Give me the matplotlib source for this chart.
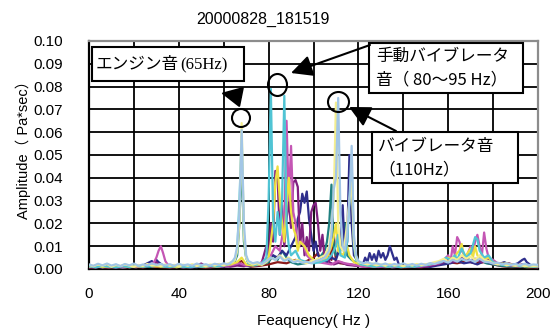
import numpy as np
import matplotlib
matplotlib.use("Agg")
import matplotlib.pyplot as plt
from matplotlib.patches import Rectangle, Ellipse
from matplotlib.transforms import IdentityTransform

# ---------------- data (amplitude in 1e-3 Pa*sec) ----------------
title = "20000828_181519"
x_label = "Feaquency( Hz )"
y_label = "Amplitude（ Pa*sec）"
x_ticks = [0, 40, 80, 120, 160, 200]
x_tick_labels = ["0", "40", "80", "120", "160", "200"]
y_ticks = [0.00, 0.01, 0.02, 0.03, 0.04, 0.05, 0.06, 0.07, 0.08, 0.09, 0.10]
y_tick_labels = ["0.00", "0.01", "0.02", "0.03", "0.04", "0.05", "0.06", "0.07", "0.08", "0.09", "0.10"]

dark_red = [(0,0.6),(4,1.0),(8,0.5),(12,0.8),(16,0.6),(20,1.0),(24,0.7),(28,1.2),(32,0.8),(36,0.6),(40,0.9),(44,0.7),(48,1.0),(52,0.6),(56,0.9),(60,1.2),(64,1.5),(66,2.5),(68,3.5),(70,1.8),(72,1.0),(76,1.4),(80,2.0),(84,3.0),(88,2.5),(92,4.0),(96,3.0),(100,5.0),(102,7.0),(103,4.0),(104,6.0),(106,3.0),(107,10.0),(108,4.0),(109,16.0),(110,3.0),(112,2.5),(116,2.0),(120,1.5),(124,1.0),(128,1.2),(132,0.8),(136,1.0),(140,0.7),(144,0.9),(148,0.8),(152,1.2),(156,2.0),(160,3.0),(164,2.5),(168,3.5),(172,2.5),(176,3.0),(180,2.0),(184,1.2),(188,0.8),(192,1.0),(196,0.7),(200,0.8)]

teal = [(0,1.0),(3,0.7),(6,1.2),(9,0.8),(12,1.0),(15,0.6),(18,1.1),(21,0.8),(24,1.3),(27,0.9),(30,1.5),(33,1.0),(36,0.8),(39,1.2),(42,0.7),(45,1.0),(48,0.8),(51,1.3),(54,0.9),(57,1.4),(60,1.2),(63,2.0),(65,3.5),(66,6.0),(67,20.0),(68,51.0),(69,12.0),(70,5.0),(71,2.5),(74,1.5),(77,2.0),(80,3.0),(82,6.0),(84,4.0),(86,8.0),(88,5.0),(90,3.0),(93,2.0),(96,2.5),(99,3.0),(102,4.0),(105,8.0),(106,12.0),(107,20.0),(108,37.0),(109,10.0),(110,6.0),(112,8.0),(113,14.0),(114,20.0),(115,6.0),(117,4.0),(120,2.0),(123,1.2),(126,1.5),(129,1.0),(132,1.3),(135,0.8),(138,1.1),(141,1.0),(144,1.5),(147,1.0),(150,1.2),(153,1.8),(156,2.5),(159,3.0),(162,4.5),(165,3.5),(168,5.0),(171,3.0),(174,4.0),(177,2.5),(180,2.0),(183,1.5),(186,1.2),(189,1.0),(192,1.3),(195,0.8),(198,1.0),(200,0.9)]

navy = [(0,0.8),(3,1.2),(6,0.6),(9,1.0),(12,0.8),(15,1.2),(18,0.7),(21,1.0),(24,1.5),(26,2.5),(28,3.5),(29,2.0),(30,4.0),(31,3.0),(33,1.5),(36,1.0),(39,0.8),(42,1.2),(45,0.7),(48,1.0),(51,1.4),(54,0.8),(57,1.2),(60,1.0),(63,1.5),(66,2.0),(69,1.5),(72,1.2),(75,2.0),(78,3.0),(80,4.0),(82,6.0),(84,5.0),(86,8.0),(88,6.0),(90,10.0),(92,14.0),(93,22.0),(94,25.0),(95,33.0),(96,29.0),(97,34.0),(98,22.0),(99,15.0),(100,8.0),(101,12.0),(102,6.0),(104,4.0),(106,3.0),(108,5.0),(110,4.0),(112,10.0),(113,28.0),(114,6.0),(115,12.0),(116,50.0),(117,20.0),(118,6.0),(120,3.0),(122,2.0),(123,5.0),(124,3.0),(125,7.0),(126,4.0),(127,6.5),(128,3.5),(129,8.0),(130,5.0),(131,7.0),(132,4.0),(133,6.0),(134,10.0),(135,7.0),(136,4.0),(137,5.0),(138,2.0),(140,1.2),(143,1.5),(146,1.0),(149,1.3),(152,0.9),(155,1.5),(158,2.0),(161,2.5),(164,3.5),(167,2.5),(170,3.0),(173,2.0),(176,3.5),(179,2.5),(182,2.0),(185,3.0),(188,1.5),(191,2.5),(193,4.0),(194,4.5),(195,3.0),(197,1.5),(200,1.0)]

purple = [(0,0.7),(3,1.0),(6,0.8),(9,1.2),(12,0.6),(15,1.0),(18,0.9),(21,1.3),(24,0.8),(27,1.5),(30,3.0),(31,2.0),(33,1.2),(36,0.8),(39,1.1),(42,0.7),(45,1.2),(48,1.6),(50,2.4),(52,1.2),(55,0.9),(58,2.2),(60,1.3),(63,1.0),(66,1.5),(69,1.2),(72,2.0),(75,1.5),(77,3.0),(79,10.0),(80,6.0),(81,20.0),(82,12.0),(83,43.0),(84,40.0),(85,15.0),(86,28.0),(87,10.0),(88,22.0),(89,30.0),(90,18.0),(91,38.0),(92,39.0),(93,36.0),(94,10.0),(95,20.0),(96,6.0),(97,14.0),(98,8.0),(99,25.0),(100,28.0),(101,29.0),(102,20.0),(103,8.0),(104,15.0),(105,4.0),(106,6.0),(107,3.0),(109,2.0),(112,3.0),(115,1.8),(118,1.5),(121,1.2),(124,1.0),(127,1.5),(130,1.0),(133,1.3),(136,0.8),(139,1.1),(142,1.0),(145,1.4),(148,0.9),(151,1.2),(154,1.8),(157,2.5),(160,4.0),(163,3.0),(166,5.0),(169,3.5),(172,4.5),(175,3.0),(178,4.0),(181,2.5),(184,2.0),(187,2.5),(190,1.5),(193,2.0),(196,1.2),(200,1.0)]

magenta = [(0,1.0),(3,0.7),(6,1.1),(9,0.8),(12,1.2),(15,0.7),(18,1.0),(21,0.8),(24,1.3),(27,1.8),(29,3.0),(30,5.0),(31,8.0),(32,10.0),(33,7.0),(34,3.5),(35,2.0),(37,1.2),(40,0.9),(43,1.1),(46,0.8),(49,1.3),(52,0.9),(55,1.5),(58,1.0),(61,1.4),(64,1.8),(67,2.5),(70,1.5),(73,1.8),(76,2.5),(79,4.0),(81,6.0),(83,10.0),(85,8.0),(86,14.0),(87,20.0),(88,65.0),(89,30.0),(90,54.0),(91,25.0),(92,20.0),(93,10.0),(95,12.0),(97,6.0),(99,4.0),(102,3.0),(105,2.5),(108,2.0),(111,3.5),(114,2.5),(117,2.0),(120,1.5),(123,1.0),(126,1.3),(129,0.9),(132,1.2),(135,0.8),(138,1.1),(141,0.9),(144,1.3),(147,1.0),(150,1.5),(153,2.0),(156,2.5),(158,4.0),(160,6.0),(161,3.0),(162,10.0),(163,6.0),(164,14.0),(165,12.0),(166,8.0),(168,5.0),(170,10.0),(171,7.0),(172,12.0),(173,15.0),(174,10.0),(175,6.0),(176,16.0),(177,9.0),(178,5.0),(180,4.0),(182,2.5),(185,2.0),(188,1.5),(191,1.2),(194,1.6),(197,1.0),(200,0.8)]

yellow = [(0,1.0),(3,1.5),(6,0.8),(9,1.2),(12,1.0),(15,1.4),(18,0.8),(21,1.2),(24,1.0),(27,1.6),(30,1.2),(33,1.0),(36,1.4),(39,0.8),(42,1.2),(45,1.0),(48,1.5),(51,0.9),(54,1.3),(57,1.0),(60,1.6),(63,2.0),(66,3.0),(68,5.0),(70,2.0),(73,1.5),(76,2.0),(78,3.0),(80,5.0),(81,12.0),(82,20.0),(83,38.0),(84,45.0),(85,30.0),(86,20.0),(87,12.0),(88,28.0),(89,40.0),(90,25.0),(91,18.0),(92,15.0),(93,8.0),(94,12.0),(96,10.0),(98,6.0),(100,4.0),(103,3.0),(106,5.0),(108,10.0),(109,14.0),(110,20.0),(111,8.0),(113,6.0),(115,10.0),(116,6.0),(118,3.0),(121,2.0),(124,1.5),(127,1.2),(130,1.8),(133,1.0),(136,1.4),(139,1.0),(142,1.5),(145,1.2),(148,1.8),(151,2.0),(154,2.5),(157,3.5),(160,5.0),(162,4.0),(164,7.0),(165,8.0),(166,11.0),(167,6.0),(168,6.0),(170,9.0),(171,5.0),(172,10.0),(173,6.0),(175,4.0),(178,5.0),(180,3.0),(183,2.0),(186,2.5),(189,1.5),(192,1.8),(195,1.2),(198,1.0),(200,1.2)]

cyan = [(0,1.2),(3,0.8),(6,1.3),(9,1.0),(12,0.7),(15,1.2),(18,0.9),(21,1.4),(24,1.0),(27,1.3),(30,1.8),(33,1.1),(36,0.9),(39,1.3),(42,1.0),(45,0.8),(48,1.2),(51,1.0),(54,1.4),(57,1.1),(60,1.6),(63,2.5),(65,4.0),(66,8.0),(67,30.0),(68,58.0),(69,15.0),(70,5.0),(71,2.5),(74,1.8),(77,2.5),(79,5.0),(80,30.0),(81,79.0),(82,22.0),(83,12.0),(84,25.0),(85,15.0),(86,30.0),(87,76.0),(88,20.0),(89,10.0),(90,6.0),(92,8.0),(94,4.0),(97,3.0),(100,2.5),(103,3.0),(106,4.0),(108,6.0),(110,10.0),(111,15.0),(112,6.0),(114,5.0),(115,12.0),(116,30.0),(117,46.0),(118,10.0),(119,4.0),(121,2.0),(124,1.5),(127,1.0),(130,1.4),(133,1.0),(136,1.2),(139,0.8),(142,1.1),(145,1.0),(148,1.5),(151,1.8),(154,2.5),(157,3.0),(159,5.0),(161,4.0),(163,6.0),(164,4.0),(166,9.0),(168,5.0),(170,7.0),(172,14.0),(173,13.0),(174,8.0),(176,5.0),(178,6.0),(180,3.0),(183,2.0),(186,1.5),(189,1.8),(192,1.2),(195,1.5),(198,1.0),(200,1.2)]

pale_yellow = [(0,1.8),(2,1.2),(4,2.0),(6,1.4),(8,2.2),(10,1.0),(12,1.8),(14,1.3),(16,2.0),(18,1.5),(20,1.0),(22,1.8),(24,1.3),(26,2.2),(28,1.5),(30,1.8),(32,1.2),(34,2.0),(36,1.4),(38,1.8),(40,1.1),(42,1.9),(44,1.4),(46,2.1),(48,1.3),(50,1.8),(52,1.2),(54,2.0),(56,1.5),(58,2.2),(60,1.6),(62,2.5),(64,3.0),(65,4.0),(66,8.0),(67,20.0),(68,64.0),(69,15.0),(70,5.0),(71,3.0),(73,2.0),(75,2.5),(77,1.8),(79,3.0),(81,5.0),(83,4.0),(85,6.0),(87,4.0),(89,5.0),(91,3.5),(93,4.0),(95,3.0),(97,2.5),(99,3.5),(101,4.0),(103,5.0),(105,6.0),(107,10.0),(108,18.0),(109,30.0),(110,73.0),(111,20.0),(112,10.0),(113,8.0),(114,12.0),(115,20.0),(116,30.0),(117,38.0),(118,12.0),(119,5.0),(120,3.0),(122,2.5),(124,2.0),(126,2.4),(128,1.6),(130,2.0),(132,1.4),(134,2.2),(136,1.5),(138,1.8),(140,1.2),(142,2.0),(144,1.5),(146,2.2),(148,1.6),(150,2.0),(152,2.5),(154,3.0),(156,3.5),(158,4.5),(160,3.0),(162,5.0),(164,4.0),(166,6.0),(168,4.5),(170,5.5),(172,4.0),(174,6.0),(176,4.0),(178,3.5),(180,2.5),(182,2.0),(184,2.4),(186,1.6),(188,2.0),(190,1.4),(192,1.8),(194,1.2),(196,1.6),(198,1.3),(200,1.5)]

light_blue = [(0,2.0),(2,1.4),(4,2.3),(6,1.6),(8,2.4),(10,1.5),(12,2.1),(14,1.3),(16,2.2),(18,1.6),(20,2.4),(22,1.4),(24,2.0),(26,1.6),(28,2.5),(30,1.8),(32,2.2),(34,1.5),(36,2.1),(38,1.4),(40,2.3),(42,1.6),(44,2.0),(46,1.4),(48,2.4),(50,1.7),(52,2.1),(54,1.5),(56,2.3),(58,1.8),(60,2.5),(62,2.0),(64,3.5),(65,5.0),(66,10.0),(67,25.0),(68,61.0),(69,20.0),(70,6.0),(71,3.5),(73,2.5),(75,3.0),(77,2.2),(79,3.5),(81,5.0),(83,4.0),(85,5.5),(87,3.5),(89,4.5),(91,3.0),(93,3.5),(95,2.8),(97,3.2),(99,2.5),(101,3.5),(103,4.0),(105,5.0),(107,8.0),(108,15.0),(109,35.0),(110,40.0),(111,75.0),(112,25.0),(113,10.0),(114,8.0),(115,15.0),(116,30.0),(117,54.0),(118,15.0),(119,6.0),(120,3.5),(122,2.5),(124,3.0),(126,2.2),(128,2.6),(130,1.8),(132,2.4),(134,1.6),(136,2.2),(138,1.8),(140,2.5),(142,1.6),(144,2.2),(146,1.5),(148,2.3),(150,1.8),(152,2.6),(154,2.2),(156,3.0),(158,3.5),(160,2.8),(162,4.0),(164,3.2),(166,4.5),(168,3.5),(170,4.0),(172,3.0),(174,4.5),(176,3.2),(178,3.0),(180,2.4),(182,2.8),(184,2.0),(186,2.5),(188,1.8),(190,2.2),(192,1.6),(194,2.3),(196,1.7),(198,2.0),(200,1.8)]

series = [
    (dark_red, "#8B1A1A"),
    (teal, "#1F8080"),
    (navy, "#2E2E8C"),
    (purple, "#7F1F7F"),
    (magenta, "#C456B4"),
    (yellow, "#EEE040"),
    (cyan, "#50C4D4"),
    (pale_yellow, "#F4EE90"),
    (light_blue, "#A2C6E6"),
]

# ---------------- figure ----------------
W, H = 558, 332
fig = plt.figure(figsize=(W / 100, H / 100), dpi=100)
ax = fig.add_axes([89 / W, 1 - 269 / H, 449 / W, 228 / H])

for pts, col in series:
    f = [p[0] for p in pts]
    a = [p[1] * 1e-3 for p in pts]
    ax.plot(f, a, color=col, lw=1.6, zorder=3)

ax.set_xlim(0, 200)
ax.set_ylim(0, 0.1)
ax.set_xticks(x_ticks)
ax.set_xticklabels(x_tick_labels)
ax.set_xticks(np.arange(0, 201, 20), minor=True)
ax.set_yticks(y_ticks)
ax.set_yticklabels(y_tick_labels)
ax.grid(which="both", color="black", lw=1.3, zorder=1)
ax.set_axisbelow(True)
ax.tick_params(which="both", length=0)
ax.tick_params(axis="x", pad=13, labelsize=11)
ax.tick_params(axis="y", pad=19, labelsize=11)
for lab in ax.get_xticklabels() + ax.get_yticklabels():
    lab.set_fontfamily("Liberation Sans")
for s in ["left", "bottom"]:
    ax.spines[s].set_color("black")
    ax.spines[s].set_linewidth(1.6)
for s in ["top", "right"]:
    ax.spines[s].set_color("#8c8c8c")
    ax.spines[s].set_linewidth(1.6)

def P(x, y):
    return (x, H - y)

ID = IdentityTransform()
fig.text(*P(263, 19), title, transform=ID, ha="center", va="center",
         fontsize=11.5, family="Liberation Sans")
fig.text(*P(314, 321), x_label, transform=ID, ha="center", va="center",
         fontsize=11, family=["Liberation Sans", "Noto Sans CJK JP"])
fig.text(*P(23, 146), y_label, transform=ID, ha="center", va="center",
         rotation=90, fontsize=10.5, family=["Liberation Sans", "Noto Sans CJK JP"])

jp = ["Noto Sans CJK JP", "DejaVu Sans"]

def box(x0, y0, x1, y1):
    r = Rectangle(P(x0, y1), x1 - x0, y1 - y0, transform=ID, fc="white",
                  ec="black", lw=1.5, zorder=6, clip_on=False)
    ax.add_patch(r)

def txt(x, y, s, size=12, fam=jp):
    ax.text(*P(x, y), s, transform=ID, ha="left", va="center", fontsize=size,
            family=fam, zorder=7, clip_on=False)

box(92, 47, 244, 81)
txt(96, 65, "エンジン音", 12)
txt(180, 65, "(65Hz)", 12, ["Liberation Serif"])

box(369, 43, 523, 93)
txt(376, 56, "手動バイブレータ", 12)
txt(376, 80, "音（ 80～95 Hz）", 12)

box(372, 132, 518, 183)
txt(378, 147, "バイブレータ音", 12)
txt(378, 170, "（110Hz）", 12)

for (cx, cy, w, h) in [(241, 118, 18, 18), (277.5, 85, 19, 22), (338.5, 102, 21, 20)]:
    ax.add_patch(Ellipse(P(cx, cy), w, h, transform=ID, fill=False, ec="black",
                         lw=1.5, zorder=6, clip_on=False))

for tip, tail in [((221, 93), (241, 97)), ((291, 73), (370, 45)), ((349, 107), (396, 131))]:
    ax.annotate("", xy=P(*tip), xytext=P(*tail), xycoords="figure pixels",
                textcoords="figure pixels",
                arrowprops=dict(arrowstyle="-|>,head_length=1.0,head_width=0.5",
                                color="black", lw=1.5, mutation_scale=13,
                                shrinkA=0, shrinkB=0), zorder=8)

fig.savefig("out.png", dpi=100)
